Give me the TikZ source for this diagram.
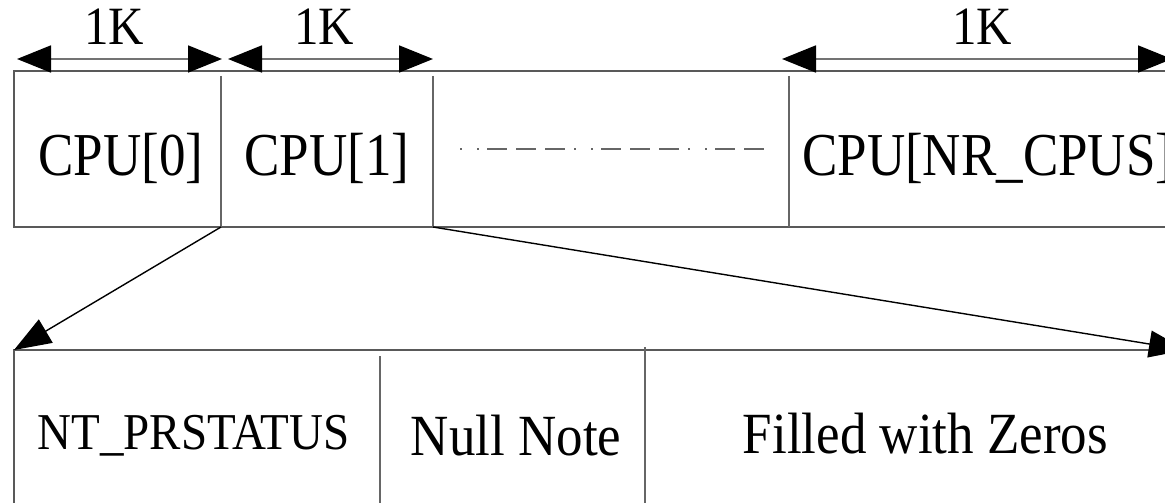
\documentclass[tikz,border=0pt]{standalone}
\usepackage{fontspec}
\usepackage{graphicx}
\setmainfont{Liberation Serif}
\usetikzlibrary{arrows.meta}
\newcommand{\tallA}[1]{\scalebox{1}[1.15]{#1}}
\newcommand{\tallB}[1]{\scalebox{1}[1.1]{#1}}
\begin{document}
\begin{tikzpicture}[x=1pt,y=-1pt,
  boxline/.style={draw=black!65, line width=1.6pt},
  divline/.style={draw=black!60, line width=1.3pt},
  dimarrow/.style={draw=black!55, line width=1.8pt,
    {Triangle[length=34pt,width=27pt,color=black]}-{Triangle[length=34pt,width=27pt,color=black]}},
  diagarrow/.style={draw=black, line width=1.4pt,
    -{Triangle[length=37pt,width=27pt,color=black]}},
  dashdot/.style={draw=black!60, line width=1.3pt,
    dash pattern=on 2pt off 15pt on 2pt off 8pt on 20pt off 9pt on 20pt off 9pt on 20pt off 9pt},
  lbl/.style={inner sep=0pt, anchor=base, font=\fontsize{49}{49}\selectfont},
  cell/.style={inner sep=0pt, anchor=base, font=\fontsize{53}{53}\selectfont},
]
\useasboundingbox (0,0) rectangle (1165,503);
\fill[white] (0,0) rectangle (1165,503);
\clip (0,0) rectangle (1165,503);

% top box
\coordinate (tl) at (14,71);
\coordinate (tr) at (1210,71);
\coordinate (bl) at (14,227);
\coordinate (br) at (1210,227);
\draw[boxline] (tr) -- (tl) -- (bl) -- (br);
\coordinate (d1t) at (221,76);  \coordinate (d1b) at (221,227);
\coordinate (d2t) at (433,76);  \coordinate (d2b) at (433,227);
\coordinate (d3t) at (789,76);  \coordinate (d3b) at (789,227);
\draw[divline] (d1t) -- (d1b);
\draw[divline] (d2t) -- (d2b);
\draw[divline] (d3t) -- (d3b);

% bottom box
\coordinate (btl) at (14,350);
\coordinate (btr) at (1210,350);
\coordinate (bbl) at (14,515);
\draw[boxline] (btr) -- (btl) -- (bbl);
\coordinate (e1t) at (380,356); \coordinate (e1b) at (380,515);
\coordinate (e2t) at (645,347); \coordinate (e2b) at (645,515);
\draw[divline] (e1t) -- (e1b);
\draw[divline] (e2t) -- (e2b);

% size arrows
\coordinate (a1l) at (17,59);  \coordinate (a1r) at (222,59);
\coordinate (a2l) at (228,59); \coordinate (a2r) at (433,59);
\coordinate (a3l) at (782,59); \coordinate (a3r) at (1172,59);
\draw[dimarrow] (a1l) -- (a1r);
\draw[dimarrow] (a2l) -- (a2r);
\draw[dimarrow] (a3l) -- (a3r);
\node[lbl] (k1) at (114,45) {\tallB{1K}};
\node[lbl] (k2) at (324,45) {\tallB{1K}};
\node[lbl] (k3) at (982,45) {\tallB{1K}};

% cells
\node[cell] (c0) at (121,175) {\tallA{CPU[0]}};
\node[cell] (c1) at (327,175) {\tallA{CPU[1]}};
\node[cell, anchor=base west] (cn) at (802,175) {\tallA{CPU[NR\_CPUS]}};
\coordinate (dl) at (460,149);
\coordinate (dr) at (764,149);
\draw[dashdot] (dl) -- (dr);

\node[cell, font=\fontsize{47}{47}\selectfont] (nt) at (193.5,449) {\tallB{NT\_PRSTATUS}};
\node[cell] (nn) at (516,455) {\tallB{Null Note}};
\node[cell, font=\fontsize{53}{53}\selectfont] (fz) at (925.5,453) {\tallB{Filled with Zeros}};

% expansion arrows
\coordinate (btip) at (1186,350);
\draw[diagarrow] (d1b) -- (btl);
\draw[diagarrow] (d2b) -- (btip);
\end{tikzpicture}
\end{document}
